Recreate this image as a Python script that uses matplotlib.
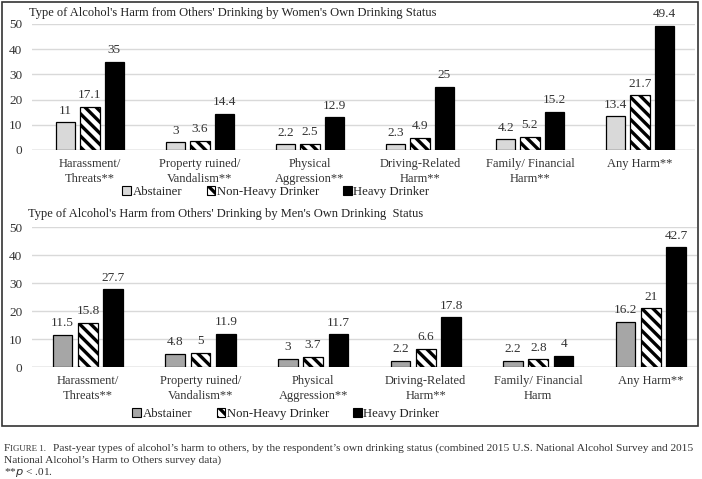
import matplotlib
matplotlib.use("Agg")
import matplotlib.pyplot as plt
from matplotlib.patches import Patch, Rectangle
import numpy as np

plt.rcParams['font.family'] = ['Liberation Serif', 'DejaVu Serif']
plt.rcParams['hatch.linewidth'] = 2.4

categories = ["Harassment/\nThreats**", "Property ruined/\nVandalism**", "Physical\nAggression**",
              "Driving-Related\nHarm**", "Family/ Financial\nHarm**", "Any Harm**"]
categories_men = ["Harassment/\nThreats**", "Property ruined/\nVandalism**", "Physical\nAggression**",
                  "Driving-Related\nHarm**", "Family/ Financial\nHarm", "Any Harm**"]
series = ["Abstainer", "Non-Heavy Drinker", "Heavy Drinker"]

women_abstainer = [11, 3, 2.2, 2.3, 4.2, 13.4]
women_nonheavy = [17.1, 3.6, 2.5, 4.9, 5.2, 21.7]
women_heavy = [35, 14.4, 12.9, 25, 15.2, 49.4]

men_abstainer = [11.5, 4.8, 3, 2.2, 2.2, 16.2]
men_nonheavy = [15.8, 5, 3.7, 6.6, 2.8, 21]
men_heavy = [27.7, 11.9, 11.7, 17.8, 4, 42.7]

yticks = [0, 10, 20, 30, 40, 50]

title_w = "Type of Alcohol's Harm from Others' Drinking by Women's Own Drinking Status"
title_m = "Type of Alcohol's Harm from Others' Drinking by Men's Own Drinking  Status"

W, H = 702, 479
fig = plt.figure(figsize=(W / 100, H / 100), dpi=100)

def ax_px(left, top, right, bottom):
    return fig.add_axes([left / W, 1 - bottom / H, (right - left) / W, (bottom - top) / H])

def fmt(v):
    return f"{v:g}"

def draw(ax, data, cats, abst_color, xlim, step, width):
    x = np.arange(len(cats))
    styles = [dict(facecolor=abst_color, edgecolor='black', hatch=None),
              dict(facecolor='white', edgecolor='black', hatch='\\\\\\'),
              dict(facecolor='black', edgecolor='black', hatch=None)]
    for i, (vals, st) in enumerate(zip(data, styles)):
        pos = x + (i - 1) * step
        bars = ax.bar(pos, vals, width, linewidth=0.9, zorder=3, **st)
        for b, v in zip(bars, vals):
            ax.annotate(fmt(v), (b.get_x() + b.get_width() / 2, v), xytext=(0, 4),
                        textcoords='offset points', ha='center', va='bottom',
                        fontsize=9.5, color='#333333')
    ax.set_ylim(0, 50)
    ax.set_xlim(*xlim)
    ax.set_yticks(yticks)
    ax.set_yticklabels([str(t) for t in yticks], fontsize=9.5, color='#333333')
    ax.set_xticks(x)
    ax.set_xticklabels(cats, fontsize=9, color='#333333', linespacing=1.25)
    ax.tick_params(axis='both', length=0)
    ax.tick_params(axis='x', pad=6)
    ax.tick_params(axis='y', pad=7)
    for s in ax.spines.values():
        s.set_visible(False)
    ax.grid(axis='y', color='#d9d9d9', linewidth=1.0, zorder=0)
    ax.axhline(0, color='#bfbfbf', linewidth=1.0, zorder=2)
    ax.patch.set_visible(False)

ax1 = ax_px(32, 24, 695, 150)
draw(ax1, [women_abstainer, women_nonheavy, women_heavy], categories, '#d9d9d9',
     (-0.527, 5.5), 0.22, 0.175)
ax2 = ax_px(32, 227, 697, 367)
draw(ax2, [men_abstainer, men_nonheavy, men_heavy], categories_men, '#a6a6a6',
     (-0.497, 5.41), 0.225, 0.175)

fig.text(29 / W, 1 - 13 / H, title_w, fontsize=9, ha='left', va='center', color='#222222')
fig.text(28 / W, 1 - 214 / H, title_m, fontsize=9, ha='left', va='center', color='#222222')

def legend(abst_color, cx, cy):
    handles = [Patch(facecolor=abst_color, edgecolor='black', linewidth=0.8, label=series[0]),
               Patch(facecolor='white', edgecolor='black', hatch='\\\\\\', linewidth=0.8, label=series[1]),
               Patch(facecolor='black', edgecolor='black', linewidth=0.8, label=series[2])]
    leg = fig.legend(handles=handles, loc='center', bbox_to_anchor=(cx / W, 1 - cy / H), ncol=3,
                     frameon=False, fontsize=9.2, handlelength=0.65, handleheight=0.65,
                     handletextpad=0.15, columnspacing=1.9, borderpad=0, borderaxespad=0)
    for t in leg.get_texts():
        t.set_color('#222222')

legend('#d9d9d9', 276, 192)
legend('#a6a6a6', 286, 414)

fig.add_artist(Rectangle((2 / W, 1 - 426 / H), 696 / W, 424 / H, transform=fig.transFigure,
                         fill=False, edgecolor='#333333', linewidth=1.2))

cap_fs = 8.2
cap_y1 = 1 - 451 / H
fig.text(4 / W, cap_y1, "F", fontsize=cap_fs, ha='left', va='baseline', color='#333333')
fig.text(9.5 / W, cap_y1, "IGURE 1.", fontsize=6.4, ha='left', va='baseline', color='#333333')
fig.text(53 / W, cap_y1,
         "Past-year types of alcohol\u2019s harm to others, by the respondent\u2019s own drinking status (combined 2015 U.S. National Alcohol Survey and 2015",
         fontsize=cap_fs, ha='left', va='baseline', color='#333333')
fig.text(4 / W, 1 - 463 / H, "National Alcohol\u2019s Harm to Others survey data)",
         fontsize=cap_fs, ha='left', va='baseline', color='#333333')
fig.text(4 / W, 1 - 475 / H, "**$\\it{p}$ < .01.", fontsize=cap_fs, ha='left', va='baseline', color='#333333')

fig.savefig("out.png", dpi=100)
